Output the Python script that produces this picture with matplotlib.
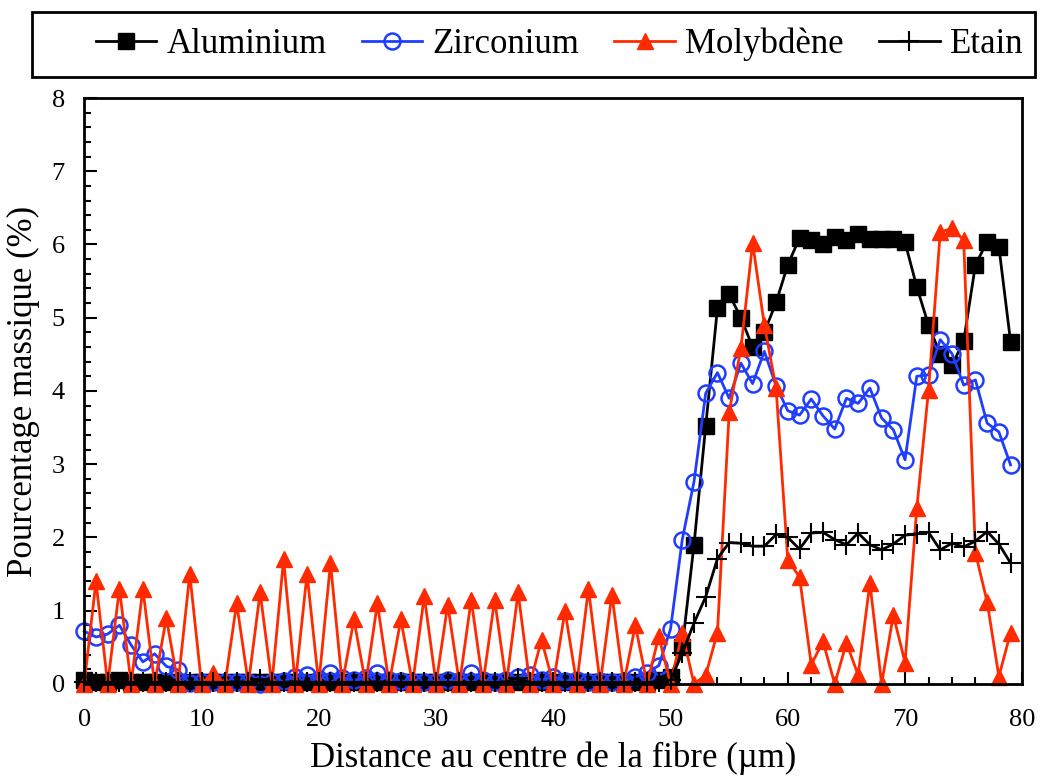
import numpy as np
import matplotlib
matplotlib.use('Agg')
import matplotlib.pyplot as plt
from matplotlib.ticker import MultipleLocator
from matplotlib.patches import Rectangle

plt.rcParams['font.family'] = ['Liberation Serif', 'DejaVu Serif']

# distance (µm), un point par µm
distance = np.arange(0, 80)

aluminium = [0.05, 0.02, 0.02, 0.05, 0.02, 0.02, 0.02, 0.03, 0.02, 0.02,
             0.02, 0.02, 0.02, 0.02, 0.02, 0.02, 0.02, 0.02, 0.02, 0.02,
             0.02, 0.02, 0.02, 0.02, 0.02, 0.02, 0.02, 0.02, 0.02, 0.02,
             0.02, 0.02, 0.02, 0.02, 0.02, 0.02, 0.02, 0.03, 0.02, 0.02,
             0.02, 0.02, 0.02, 0.02, 0.02, 0.02, 0.02, 0.02, 0.03, 0.05,
             0.1, 0.5, 1.9, 3.52, 5.13, 5.32, 5.0, 4.6, 4.8, 5.21,
             5.72, 6.09, 6.06, 6.0, 6.1, 6.06, 6.14, 6.08, 6.08, 6.08,
             6.03, 5.42, 4.9, 4.5, 4.35, 4.68, 5.72, 6.04, 5.97, 4.67]

zirconium = [0.72, 0.64, 0.68, 0.8, 0.53, 0.3, 0.41, 0.24, 0.19, 0.01,
             0.02, 0.02, 0.03, 0.02, 0.03, 0.0, 0.02, 0.04, 0.1, 0.12,
             0.06, 0.15, 0.08, 0.05, 0.08, 0.15, 0.05, 0.04, 0.03, 0.02,
             0.03, 0.05, 0.04, 0.15, 0.05, 0.03, 0.05, 0.1, 0.12, 0.05,
             0.1, 0.04, 0.05, 0.03, 0.04, 0.03, 0.04, 0.1, 0.15, 0.25,
             0.75, 1.97, 2.76, 3.97, 4.25, 3.9, 4.38, 4.1, 4.54, 4.07,
             3.73, 3.67, 3.89, 3.66, 3.48, 3.9, 3.83, 4.04, 3.63, 3.47,
             3.06, 4.2, 4.22, 4.7, 4.51, 4.08, 4.15, 3.56, 3.44, 2.99]

molybdene = [0.0, 1.4, 0.0, 1.3, 0.0, 1.3, 0.0, 0.9, 0.0, 1.5,
             0.0, 0.15, 0.0, 1.1, 0.0, 1.25, 0.0, 1.7, 0.0, 1.5,
             0.0, 1.65, 0.0, 0.88, 0.0, 1.1, 0.0, 0.88, 0.0, 1.2,
             0.0, 1.08, 0.0, 1.15, 0.0, 1.15, 0.0, 1.25, 0.0, 0.6,
             0.0, 1.0, 0.0, 1.3, 0.0, 1.22, 0.0, 0.8, 0.0, 0.65,
             0.0, 0.7, 0.0, 0.12, 0.7, 3.71, 4.58, 6.02, 4.9, 4.04,
             1.69, 1.46, 0.26, 0.58, 0.0, 0.56, 0.12, 1.38, 0.0, 0.94,
             0.29, 2.4, 4.01, 6.17, 6.22, 6.06, 1.79, 1.12, 0.1, 0.7]

etain = [0.03, 0.02, 0.02, 0.03, 0.02, 0.02, 0.02, 0.03, 0.02, 0.02,
         0.02, 0.02, 0.02, 0.03, 0.02, 0.06, 0.02, 0.02, 0.03, 0.02,
         0.02, 0.02, 0.02, 0.02, 0.02, 0.03, 0.02, 0.02, 0.02, 0.02,
         0.02, 0.02, 0.02, 0.02, 0.02, 0.02, 0.03, 0.08, 0.02, 0.02,
         0.02, 0.02, 0.02, 0.02, 0.02, 0.02, 0.02, 0.02, 0.02, 0.03,
         0.05, 0.42, 0.83, 1.19, 1.71, 1.93, 1.92, 1.88, 1.88, 2.04,
         2.0, 1.84, 2.06, 2.07, 1.97, 1.9, 2.06, 1.9, 1.83, 1.91,
         2.03, 2.05, 2.07, 1.83, 1.92, 1.87, 1.95, 2.08, 1.91, 1.65]

bleu = '#1f3dff'
rouge = '#ff2a00'

fig = plt.figure(figsize=(10.4, 7.78), dpi=100)
ax = fig.add_axes([0.081, 0.121, 0.902, 0.753])

ax.plot(distance, aluminium, color='black', lw=2, marker='s', ms=12,
        label='Aluminium', clip_on=False)
ax.plot(distance, zirconium, color=bleu, lw=2, marker='o', ms=11.5,
        mfc='none', mec=bleu, mew=1.8, label='Zirconium', clip_on=False)
ax.plot(distance, molybdene, color=rouge, lw=2, marker='^', ms=12,
        label='Molybdène', clip_on=False)
ax.plot(distance, etain, color='black', lw=2, marker='+', ms=15, mew=1.5,
        label='Etain', clip_on=False)

ax.set_xlim(0, 80)
ax.set_ylim(0, 8)
ax.xaxis.set_major_locator(MultipleLocator(10))
ax.xaxis.set_minor_locator(MultipleLocator(2))
ax.yaxis.set_major_locator(MultipleLocator(1))
ax.yaxis.set_minor_locator(MultipleLocator(0.2))
ax.tick_params(which='both', direction='in', labelsize=19, width=1.5)
ax.tick_params(which='major', length=9)
ax.tick_params(which='minor', length=5)
ax.tick_params(axis='x', pad=18)
ax.tick_params(axis='y', pad=14)
for s in ax.spines.values():
    s.set_linewidth(2)

ax.set_xlabel('Distance au centre de la fibre (µm)', fontsize=25, labelpad=8)
ax.set_ylabel('Pourcentage massique (%)', fontsize=25, labelpad=8)

# légende sans cadre + cadre dessiné à part
leg = fig.legend(loc='center', bbox_to_anchor=(0.538, 0.943),
                 ncol=4, fontsize=25, frameon=False,
                 borderaxespad=0, borderpad=0.2, handlelength=1.75,
                 handletextpad=0.3, columnspacing=1.0)
cadre = Rectangle((32 / 1040, 1 - 77 / 778), 1003 / 1040, 65 / 778,
                  transform=fig.transFigure, fill=False, edgecolor='black',
                  linewidth=2)
fig.patches.append(cadre)

plt.savefig('out.png', dpi=100)
